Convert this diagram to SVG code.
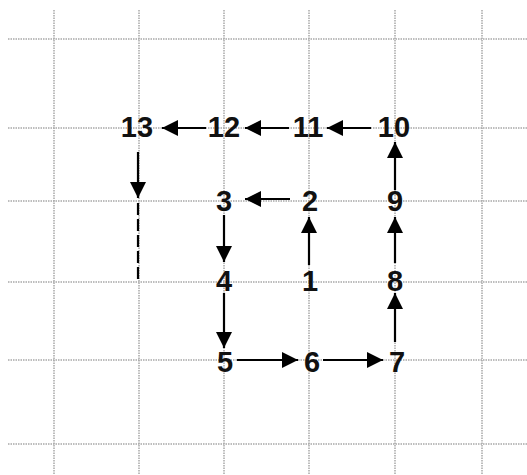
<svg xmlns="http://www.w3.org/2000/svg" width="527" height="475" viewBox="0 0 527 475">
<defs>
<marker id="ah" viewBox="0 0 10 10" refX="10" refY="5" markerWidth="17" markerHeight="16" markerUnits="userSpaceOnUse" orient="auto">
<path d="M0,0 L10,5 L0,10 Z" fill="#000"/>
</marker>
<style>
.grid line{stroke:#a8a8a8;stroke-width:1.5;stroke-dasharray:1.5 1}
.conn line{stroke:#000;stroke-width:2.2}
.conn .a{marker-end:url(#ah)}
.conn .d{stroke-dasharray:12 4}
text{font-family:"Liberation Sans",Arial,sans-serif;font-weight:bold;font-size:29px;fill:#111;text-anchor:middle}
</style>
</defs>
<rect width="527" height="475" fill="#fff"/>
<g class="grid">
<line x1="54" y1="10" x2="54" y2="475"/>
<line x1="139" y1="10" x2="139" y2="475"/>
<line x1="224" y1="10" x2="224" y2="475"/>
<line x1="309" y1="10" x2="309" y2="475"/>
<line x1="395" y1="10" x2="395" y2="475"/>
<line x1="482" y1="10" x2="482" y2="475"/>
<line x1="8" y1="39" x2="527" y2="39"/>
<line x1="8" y1="128" x2="527" y2="128"/>
<line x1="8" y1="201" x2="527" y2="201"/>
<line x1="8" y1="282" x2="527" y2="282"/>
<line x1="8" y1="360" x2="527" y2="360"/>
<line x1="8" y1="444" x2="527" y2="444"/>
</g>
<g class="conn">
<line class="a" x1="371" y1="128" x2="327" y2="128"/>
<line class="a" x1="289" y1="128" x2="245" y2="128"/>
<line class="a" x1="206" y1="128" x2="162" y2="128"/>
<line class="a" x1="138" y1="152" x2="138" y2="198"/>
<line class="d" x1="138" y1="203" x2="138" y2="282"/>
<line class="a" x1="290" y1="199" x2="245" y2="199"/>
<line class="a" x1="224" y1="215" x2="224" y2="262"/>
<line class="a" x1="309" y1="265" x2="309" y2="217"/>
<line class="a" x1="395" y1="263" x2="395" y2="217"/>
<line class="a" x1="395" y1="190" x2="395" y2="142"/>
<line class="a" x1="224" y1="293" x2="224" y2="348"/>
<line class="a" x1="395" y1="342" x2="395" y2="293"/>
<line class="a" x1="237" y1="360" x2="298" y2="360"/>
<line class="a" x1="323" y1="360" x2="383" y2="360"/>
</g>
<g id="n13"><text x="137" y="137">13</text></g>
<g id="n12"><text x="224" y="137">12</text></g>
<g id="n11"><text x="308" y="137">11</text></g>
<g id="n10"><text x="394" y="137">10</text></g>
<g id="n3"><text x="224" y="211">3</text></g>
<g id="n2"><text x="310" y="211">2</text></g>
<g id="n9"><text x="395" y="211">9</text></g>
<g id="n4"><text x="224" y="291">4</text></g>
<g id="n1"><text x="310" y="291">1</text></g>
<g id="n8"><text x="395" y="291">8</text></g>
<g id="n5"><text x="225" y="372">5</text></g>
<g id="n6"><text x="312" y="372">6</text></g>
<g id="n7"><text x="397" y="372">7</text></g>
</svg>
